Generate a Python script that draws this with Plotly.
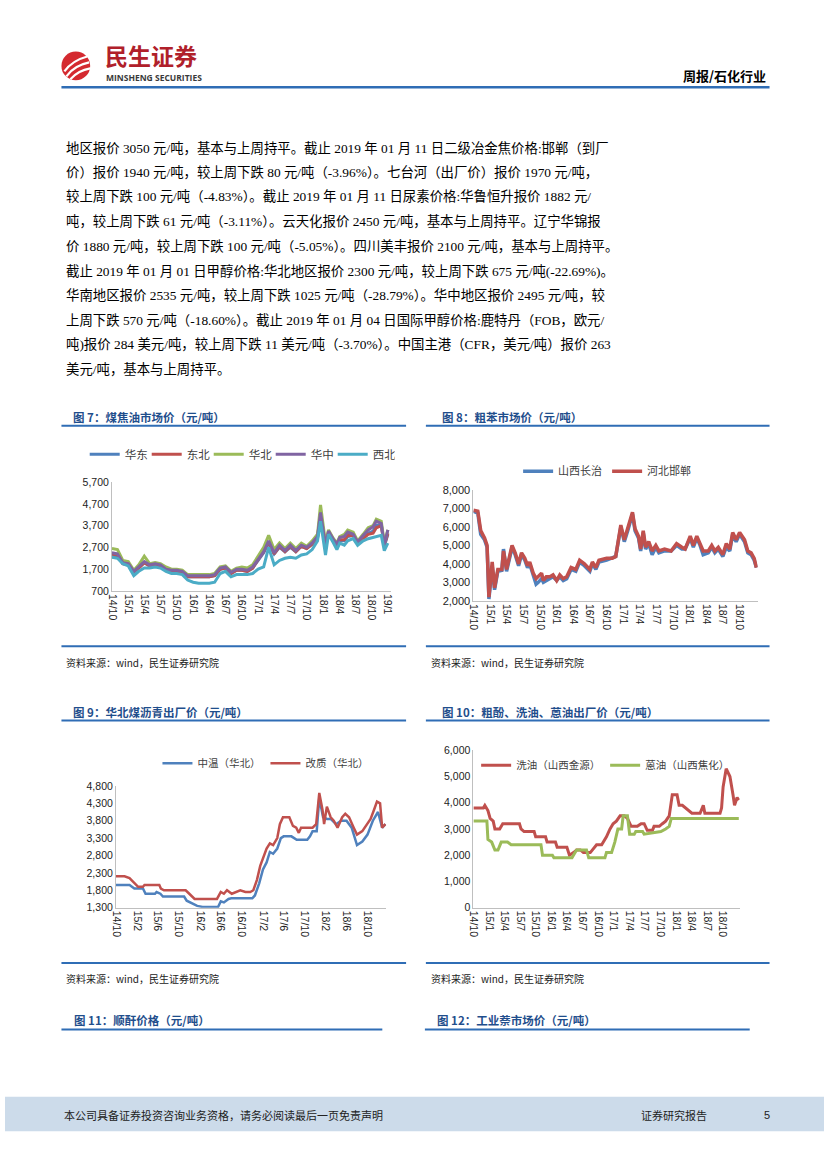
import plotly.graph_objects as go
import pandas as pd

W, H = 827, 1169
def px(x): return x / W
def py(y): return 1 - y / H

CJK = "Noto Sans CJK SC"
SERIF = "Liberation Serif, Noto Sans CJK SC"
NUM = "Liberation Sans"
TITLE_C = "#1F4E8C"
RULE_C = "#2F6DB5"
C_BLUE, C_RED, C_GREEN, C_PURPLE, C_CYAN = "#4F81BD", "#C0504D", "#9BBB59", "#8064A2", "#4BACC6"

# ---------------- Chart 7: 煤焦油市场价 ----------------
dates7 = pd.date_range("2014-10-01", "2017-09-01", freq="MS").strftime("%Y-%m-%d").tolist() + [
    "2017-10-01", "2017-11-01", "2017-12-01", "2017-12-18", "2018-01-15", "2018-02-01", "2018-03-01",
    "2018-03-20", "2018-04-05", "2018-05-01", "2018-05-20", "2018-06-20", "2018-07-15", "2018-08-15",
    "2018-09-12", "2018-10-10", "2018-10-28", "2018-11-25", "2018-12-12", "2019-01-01"]
huabei7 = [2650, 2600, 2100, 2050, 1650, 1900, 2300, 1950, 2000, 1950, 1800, 1700,
           1700, 1650, 1450, 1450, 1450, 1450, 1450, 1500, 1800, 1850, 1600, 1750,
           1800, 1750, 1900, 2300, 2700, 3250, 2600, 2900, 2650, 2900, 2650, 2900,
           2750, 3000, 3300, 4650, 2900, 3500, 3100, 2900, 3200, 3300, 3500, 3400, 3000, 3300,
           3600, 3700, 4000, 3900, 2900, 3500]
huazhong7 = [2450, 2400, 2000, 1950, 1600, 1800, 2050, 1900, 1950, 1900, 1700, 1650,
             1650, 1600, 1400, 1400, 1400, 1400, 1400, 1450, 1750, 1800, 1550, 1700,
             1700, 1650, 1800, 2150, 2500, 3000, 2450, 2800, 2550, 2800, 2550, 2800,
             2700, 2900, 3200, 4300, 2800, 3450, 3050, 2850, 3150, 3200, 3400, 3300, 2950, 3250,
             3500, 3650, 3900, 3800, 2800, 3500]
huadong7 = [2350, 2300, 1950, 1900, 1550, 1750, 2000, 1850, 1900, 1850, 1700, 1600,
            1600, 1550, 1350, 1350, 1350, 1350, 1350, 1400, 1700, 1750, 1500, 1650,
            1650, 1600, 1750, 2100, 2450, 2900, 2400, 2700, 2500, 2700, 2500, 2750,
            2650, 2850, 3100, 4200, 2750, 3350, 3000, 2750, 3000, 3000, 3200, 3250, 2900, 3150,
            3350, 3450, 3700, 3750, 2750, 3300]
dongbei7 = [2400, 2350, 1950, 1900, 1600, 1750, 2000, 1850, 1900, 1850, 1700, 1600,
            1600, 1550, 1350, 1350, 1350, 1350, 1350, 1400, 1700, 1750, 1500, 1650,
            1650, 1600, 1750, 2150, 2500, 2950, 2400, 2750, 2500, 2750, 2500, 2750,
            2650, 2850, 3150, 4250, 2750, 3400, 3000, 2800, 3050, 3050, 3250, 3250, 2900, 3100,
            3300, 3350, 3600, 3700, 2800, 3350]
xibei7 = [2250, 2200, 1950, 1850, 1400, 1600, 1750, 1750, 1800, 1750, 1600, 1500,
          1500, 1450, 1200, 1100, 1050, 1050, 1050, 1100, 1500, 1600, 1350, 1450,
          1450, 1450, 1500, 1700, 1800, 2700, 1900, 2100, 2200, 2250, 2200, 2350,
          2400, 2600, 3000, 3900, 2350, 3300, 2900, 2600, 2900, 2800, 3000, 3100, 2800, 3000,
          3100, 3150, 3200, 3250, 2550, 2900]

# ---------------- Chart 8: 粗苯市场价 ----------------
dates8 = ["2014-10-01", "2014-10-25", "2014-11-10", "2014-12-01", "2014-12-15", "2014-12-25", "2015-01-12", "2015-01-25", "2015-02-12", "2015-03-06",
          "2015-03-15", "2015-04-01", "2015-05-01", "2015-05-18", "2015-06-06", "2015-06-22", "2015-07-10", "2015-07-25", "2015-08-06", "2015-08-25",
          "2015-09-10", "2015-09-22", "2015-10-10", "2015-10-20", "2015-11-05", "2015-11-25", "2015-12-12", "2016-01-01", "2016-01-18", "2016-02-06",
          "2016-02-25", "2016-03-20", "2016-04-15", "2016-05-06", "2016-06-01", "2016-07-01", "2016-07-15", "2016-08-03", "2016-08-20", "2016-10-01",
          "2016-11-01", "2016-11-20", "2016-12-18", "2017-01-06", "2017-01-25", "2017-02-20", "2017-03-06", "2017-03-25", "2017-04-06", "2017-04-20",
          "2017-05-03", "2017-05-20", "2017-06-08", "2017-06-28", "2017-07-15", "2017-08-15", "2017-09-20", "2017-10-20", "2017-11-18", "2017-12-06",
          "2018-01-03", "2018-01-20", "2018-02-08", "2018-02-26", "2018-03-15", "2018-04-12", "2018-05-01", "2018-05-18", "2018-06-06", "2018-07-01",
          "2018-07-20", "2018-08-08", "2018-08-24", "2018-09-12", "2018-10-01", "2018-10-28", "2018-11-15", "2018-12-03", "2018-12-20", "2019-01-01"]
changzhi8 = [6850, 6750, 5600, 5300, 4900, 2100, 3900, 2600, 3600, 3650,
             4800, 3600, 4900, 4500, 3900, 4500, 4200, 3800, 4000, 3400,
             2900, 3000, 3200, 3000, 3100, 3200, 3300, 3100, 3300, 3100,
             3200, 3700, 3600, 4100, 3900, 3600, 4000, 3700, 4100, 4200,
             4300, 4400, 6000, 5200, 5800, 6700, 5800, 5400, 4700, 5700,
             4800, 5100, 4500, 4900, 4600, 4700, 4700, 5000, 4800, 4800,
             5400, 4900, 5400, 5000, 4500, 4600, 4900, 4600, 4800, 4400,
             4900, 4700, 5600, 5200, 5600, 5200, 4600, 4500, 4200, 3800]
handan8 = [6900, 6850, 5800, 5400, 5000, 2200, 4100, 2700, 3700, 3700,
           4700, 3700, 5000, 4600, 4000, 4600, 4300, 3900, 4100, 3500,
           3200, 3300, 3500, 3100, 3300, 3300, 3400, 3100, 3400, 3200,
           3300, 3800, 3700, 4200, 4000, 3700, 4100, 3800, 4200, 4300,
           4300, 4400, 6100, 5300, 5900, 6800, 5900, 5500, 4800, 5800,
           4900, 5200, 4700, 5000, 4700, 4800, 4700, 5100, 4900, 4800,
           5500, 5000, 5500, 5100, 4700, 4700, 5000, 4700, 4900, 4500,
           5100, 4800, 5700, 5300, 5700, 5300, 4700, 4600, 4300, 3800]

# ---------------- Chart 9: 华北煤沥青出厂价 ----------------
dates9_zw = ["2014-10-01", "2014-12-19", "2015-01-16", "2015-03-07", "2015-03-22", "2015-05-16", "2015-05-25", "2015-06-16", "2015-07-01", "2015-11-01",
             "2015-11-16", "2015-12-19", "2016-01-16", "2016-02-16", "2016-05-16", "2016-06-01", "2016-06-19", "2016-07-16", "2016-08-01", "2016-12-01",
             "2016-12-16", "2017-01-10", "2017-02-01", "2017-02-22", "2017-03-13", "2017-04-01", "2017-04-25", "2017-05-16", "2017-06-01", "2017-07-16",
             "2017-08-16", "2017-10-16", "2017-11-01", "2017-11-16", "2017-12-10", "2017-12-25", "2018-01-16", "2018-02-07", "2018-03-01", "2018-04-01",
             "2018-05-01", "2018-06-01", "2018-07-01", "2018-08-01", "2018-09-01", "2018-10-01", "2018-11-01", "2018-12-01", "2018-12-25", "2019-01-13"]
zhongwen9 = [1950, 1950, 1850, 1850, 1700, 1700, 1750, 1700, 1620, 1620,
             1500, 1420, 1350, 1320, 1320, 1480, 1450, 1550, 1570, 1570,
             1650, 2000, 2400, 2600, 2900, 2850, 3000, 3300, 3350, 3350,
             3250, 3250, 3350, 3500, 3500, 4450, 3900, 3850, 3850, 3700,
             3800, 3800, 3600, 3100, 3200, 3400, 3800, 4050, 3600, 3700]
dates9_gz = ["2014-10-01", "2014-11-20", "2014-12-19", "2015-01-10", "2015-01-28", "2015-02-07", "2015-03-07", "2015-03-16", "2015-06-10", "2015-06-19",
             "2015-07-07", "2015-11-10", "2015-12-01", "2015-12-19", "2016-01-01", "2016-05-10", "2016-06-01", "2016-06-19", "2016-07-07", "2016-08-04",
             "2016-08-25", "2016-09-22", "2016-10-22", "2016-11-19", "2016-12-07", "2016-12-28", "2017-01-16", "2017-02-04", "2017-02-22", "2017-03-13",
             "2017-04-01", "2017-04-25", "2017-05-10", "2017-05-28", "2017-07-04", "2017-07-25", "2017-08-13", "2017-08-28", "2017-09-10", "2017-11-16",
             "2017-12-07", "2017-12-25", "2018-01-13", "2018-01-22", "2018-02-07", "2018-03-01", "2018-03-19", "2018-04-10", "2018-05-07", "2018-05-25",
             "2018-06-16", "2018-07-13", "2018-08-01", "2018-09-01", "2018-09-28", "2018-10-19", "2018-11-07", "2018-11-25", "2018-12-13", "2018-12-25",
             "2019-01-13"]
gaizhi9 = [2200, 2200, 2150, 2050, 1950, 1900, 1900, 1950, 1950, 1850,
           1800, 1800, 1700, 1600, 1550, 1550, 1750, 1700, 1800, 1700,
           1750, 1800, 1750, 1750, 1800, 2100, 2500, 2750, 3000, 3150,
           3100, 3300, 3700, 3900, 3900, 3650, 3600, 3450, 3600, 3600,
           3700, 4600, 4100, 3700, 4200, 3900, 3800, 3600, 3900, 4000,
           3900, 3600, 3400, 3500, 3700, 3850, 4100, 4350, 4300, 3600,
           3700]

# ---------------- Chart 10: 粗酚、洗油、蒽油出厂价 ----------------
dates10_xy = ["2014-10-01", "2014-11-28", "2014-12-07", "2014-12-25", "2015-01-07", "2015-01-25", "2015-02-04", "2015-03-04", "2015-03-22", "2015-06-28",
              "2015-07-07", "2015-07-25", "2015-09-22", "2015-10-01", "2015-11-28", "2015-12-07", "2016-01-25", "2016-02-04", "2016-04-01", "2016-04-16",
              "2016-05-10", "2016-05-28", "2016-06-19", "2016-07-07", "2016-08-16", "2016-09-22", "2016-10-22", "2016-11-19", "2016-12-10", "2016-12-28",
              "2017-01-16", "2017-02-07", "2017-03-04", "2017-03-22", "2017-04-13", "2017-05-19", "2017-06-10", "2017-06-28", "2017-07-16", "2017-08-16",
              "2017-08-25", "2017-09-25", "2017-10-13", "2017-11-01", "2017-11-22", "2017-12-10", "2018-01-07", "2018-01-19", "2018-02-07", "2018-02-25",
              "2018-03-16", "2018-04-04", "2018-05-22", "2018-06-10", "2018-06-19", "2018-09-16", "2018-09-25", "2018-10-04", "2018-10-22", "2018-11-13",
              "2018-12-01", "2018-12-10", "2018-12-25", "2019-01-04"]
xiyou10 = [3800, 3800, 3900, 3700, 3400, 3300, 3000, 3000, 3200, 3200,
           3000, 2900, 2900, 2700, 2700, 2500, 2500, 2300, 2300, 2000,
           2100, 2200, 2200, 2100, 2100, 2400, 2400, 2700, 3000, 3200,
           3300, 3500, 3500, 3400, 3100, 3100, 3200, 3200, 2950, 2950,
           3100, 3100, 3200, 3300, 3500, 4300, 4300, 3900, 3900, 3800,
           3700, 3600, 3600, 3900, 3600, 3600, 3800, 4600, 5300, 5000,
           4300, 3900, 4200, 4100]
dates10_ey = ["2014-10-01", "2014-12-19", "2014-12-25", "2015-01-16", "2015-02-04", "2015-02-22", "2015-03-13", "2015-04-19", "2015-05-10", "2015-11-01",
              "2015-11-10", "2016-01-07", "2016-01-16", "2016-05-01", "2016-05-19", "2016-05-28", "2016-07-25", "2016-08-07", "2016-11-10", "2016-11-19",
              "2016-12-19", "2017-01-07", "2017-01-25", "2017-02-16", "2017-02-25", "2017-03-22", "2017-04-04", "2017-05-01", "2017-05-10", "2017-06-19",
              "2017-06-28", "2017-09-04", "2017-10-04", "2017-11-01", "2017-11-22", "2017-12-04", "2019-01-04"]
enyou10 = [3300, 3300, 2600, 2500, 2200, 2200, 2500, 2500, 2400, 2400,
           2000, 2000, 1900, 1900, 2100, 2200, 2200, 1900, 1900, 2100,
           2100, 2500, 3000, 3000, 3500, 3500, 2800, 2800, 2900, 2900,
           2800, 2850, 2900, 3000, 3100, 3400, 3400]

# ---------------- text content ----------------
paragraph = [
    "地区报价 3050 元/吨，基本与上周持平。截止 2019 年 01 月 11 日二级冶金焦价格:邯郸（到厂",
    "价）报价 1940 元/吨，较上周下跌 80 元/吨（-3.96%）。七台河（出厂价）报价 1970 元/吨，",
    "较上周下跌 100 元/吨（-4.83%）。截止 2019 年 01 月 11 日尿素价格:华鲁恒升报价 1882 元/",
    "吨，较上周下跌 61 元/吨（-3.11%）。云天化报价 2450 元/吨，基本与上周持平。辽宁华锦报",
    "价 1880 元/吨，较上周下跌 100 元/吨（-5.05%）。四川美丰报价 2100 元/吨，基本与上周持平。",
    "截止 2019 年 01 月 01 日甲醇价格:华北地区报价 2300 元/吨，较上周下跌 675 元/吨(-22.69%)。",
    "华南地区报价 2535 元/吨，较上周下跌 1025 元/吨（-28.79%）。华中地区报价 2495 元/吨，较",
    "上周下跌 570 元/吨（-18.60%）。截止 2019 年 01 月 04 日国际甲醇价格:鹿特丹（FOB，欧元/",
    "吨)报价 284 美元/吨，较上周下跌 11 美元/吨（-3.70%）。中国主港（CFR，美元/吨）报价 263",
    "美元/吨，基本与上周持平。",
]
titles = ["图 7：煤焦油市场价（元/吨）", "图 8：粗苯市场价（元/吨）",
          "图 9：华北煤沥青出厂价（元/吨）", "图 10：粗酚、洗油、蒽油出厂价（元/吨）",
          "图 11：顺酐价格（元/吨）", "图 12：工业萘市场价（元/吨）"]
source = "资料来源：wind，民生证券研究院"

fig = go.Figure()

def add(x, y, name, color, width, xa, ya, leg):
    n = min(len(x), len(y))
    fig.add_trace(go.Scatter(x=x[:n], y=y[:n], name=name, mode="lines",
                             line=dict(color=color, width=width),
                             xaxis=xa, yaxis=ya, legend=leg, hoverinfo="skip"))

add(dates7, huadong7, "华东", C_BLUE, 3, "x", "y", "legend")
add(dates7, dongbei7, "东北", C_RED, 3, "x", "y", "legend")
add(dates7, huabei7, "华北", C_GREEN, 3, "x", "y", "legend")
add(dates7, huazhong7, "华中", C_PURPLE, 3, "x", "y", "legend")
add(dates7, xibei7, "西北", C_CYAN, 3, "x", "y", "legend")

add(dates8, changzhi8, "山西长治", C_BLUE, 3.5, "x2", "y2", "legend2")
add(dates8, handan8, "河北邯郸", C_RED, 3.5, "x2", "y2", "legend2")

add(dates9_zw, zhongwen9, "中温（华北）", C_BLUE, 2.5, "x3", "y3", "legend3")
add(dates9_gz, gaizhi9, "改质（华北）", C_RED, 2.5, "x3", "y3", "legend3")

add(dates10_xy, xiyou10, "洗油（山西金源）", C_RED, 3, "x4", "y4", "legend4")
add(dates10_ey, enyou10, "蒽油（山西焦化）", C_GREEN, 3, "x4", "y4", "legend4")

def tick_list(start, end, step):
    d = pd.date_range(start, end, freq=f"{step}MS")
    return [x.strftime("%Y-%m-%d") for x in d], [f"{x.year % 100}/{x.month}" for x in d]

def xax(left, right, rng, ticks, anchor, fs):
    tv, tt = ticks
    return dict(domain=[px(left), px(right)], range=rng, type="date", anchor=anchor,
                tickmode="array", tickvals=tv, ticktext=tt, tickangle=90,
                showgrid=False, zeroline=False, showline=True, linecolor="#BFBFBF", linewidth=1,
                ticks="", tickfont=dict(family=NUM, size=fs, color="#222"), fixedrange=True)

def yax(top, bottom, rng, dtick, anchor, fs):
    return dict(domain=[py(bottom), py(top)], range=rng, tickmode="linear", tick0=rng[0], dtick=dtick,
                anchor=anchor, tickformat=",", showgrid=False, zeroline=False, showline=True,
                linecolor="#BFBFBF", linewidth=1, ticks="",
                tickfont=dict(family=NUM, size=fs, color="#222"), fixedrange=True)

def legend(xc, yc, fs, ew=None):
    d = dict(orientation="h", x=px(xc), y=py(yc), xanchor="center", yanchor="middle",
             font=dict(family=CJK, size=fs, color="#404040"), bgcolor="rgba(0,0,0,0)",
             itemwidth=30, tracegroupgap=0)
    if ew:
        d.update(entrywidth=ew, entrywidthmode="pixels")
    return d

shapes = []
annotations = []

def hline(x0, x1, y, color, w):
    shapes.append(dict(type="line", xref="paper", yref="paper", x0=px(x0), x1=px(x1),
                       y0=py(y), y1=py(y), line=dict(color=color, width=w)))

def text(x, y, s, size, color="#000", family=CJK, anchor="left", bold=False):
    if bold:
        s = "<b>" + s + "</b>"
    annotations.append(dict(xref="paper", yref="paper", x=px(x), y=py(y), text=s, showarrow=False,
                            xanchor=anchor, yanchor="middle",
                            font=dict(size=size, color=color, family=family)))

# header
shapes.append(dict(type="circle", xref="paper", yref="paper", x0=px(57), x1=px(86), y0=py(75), y1=py(46),
                   fillcolor="#D42A30", line=dict(width=0)))
def path(pts):
    return "M " + " ".join(f"{'Q ' if i == 1 else ''}{px(a):.5f},{py(b):.5f}" for i, (a, b) in enumerate(pts))
for pts in [[(60, 66), (68, 55), (83, 51)], [(62, 71), (70, 60), (85, 57)], [(66, 74), (74, 65), (86, 63)]]:
    shapes.append(dict(type="path", xref="paper", yref="paper", path=path(pts),
                       line=dict(color="white", width=2.2)))
text(99, 50, "民生证券", 23, "#B0202A", CJK, bold=True)
text(100, 72, "MINSHENG SECURITIES", 8.5, "#3A3A3A", "Open Sans", bold=True)
text(770, 70, "周报/石化行业", 13, "#000", CJK, anchor="right", bold=True)
hline(57, 772, 82, RULE_C, 2.5)

# paragraph
for i, line in enumerate(paragraph):
    text(60, 143 + i * 24.9, line, 13.4, "#000", SERIF)

# chart titles & rules
text(67, 415, titles[0], 11.5, TITLE_C, CJK, bold=True)
text(439, 415, titles[1], 11.5, TITLE_C, CJK, bold=True)
hline(57, 405, 424, RULE_C, 2)
hline(425, 772, 424, RULE_C, 2)
hline(57, 405, 647, RULE_C, 2)
hline(425, 772, 647, RULE_C, 2)
text(60, 663, source, 10, "#222", CJK)
text(428, 663, source, 10, "#222", CJK)

text(67, 713, titles[2], 11.5, TITLE_C, CJK, bold=True)
text(439, 713, titles[3], 11.5, TITLE_C, CJK, bold=True)
hline(57, 405, 722, RULE_C, 2)
hline(425, 772, 722, RULE_C, 2)
hline(57, 405, 967, RULE_C, 2)
hline(425, 772, 967, RULE_C, 2)
text(60, 983, source, 10, "#222", CJK)
text(428, 983, source, 10, "#222", CJK)

text(68, 1025, titles[4], 11.5, TITLE_C, CJK, bold=True)
text(434, 1025, titles[5], 11.5, TITLE_C, CJK, bold=True)
hline(57, 381, 1034, RULE_C, 2)
hline(424, 752, 1034, RULE_C, 2)

# footer
shapes.append(dict(type="rect", xref="paper", yref="paper", x0=0, x1=1, y0=py(1137), y1=py(1102),
                   fillcolor="#CCDBEA", line=dict(width=0), layer="below"))
text(58, 1121, "本公司具备证券投资咨询业务资格，请务必阅读最后一页免责声明", 11, "#222", CJK)
text(640, 1121, "证券研究报告", 11, "#222", CJK)
text(764, 1121, "5", 11, "#222", NUM)

fig.update_layout(
    width=W, height=H, margin=dict(l=0, r=0, t=0, b=0),
    paper_bgcolor="white", plot_bgcolor="rgba(0,0,0,0)",
    showlegend=True,
    xaxis=xax(108, 390, ["2014-10-01", "2019-01-20"], tick_list("2014-10-01", "2019-01-01", 3), "y", 10.5),
    yaxis=yax(481, 591, [700, 5700], 1000, "x", 10.5),
    xaxis2=xax(473, 760, ["2014-10-01", "2019-01-08"], tick_list("2014-10-01", "2018-10-01", 3), "y2", 10.5),
    yaxis2=yax(489, 601, [2000, 8000], 1000, "x2", 11),
    xaxis3=xax(112, 385, ["2014-10-01", "2019-01-18"], tick_list("2014-10-01", "2018-10-01", 4), "y3", 10.5),
    yaxis3=yax(788, 911, [1300, 4800], 500, "x3", 10.5),
    xaxis4=xax(473, 742, ["2014-10-01", "2019-01-10"], tick_list("2014-10-01", "2018-10-01", 3), "y4", 10.5),
    yaxis4=yax(752, 911, [0, 6000], 1000, "x4", 10.5),
    legend=legend(237, 453, 11.5, 17),
    legend2=legend(608, 470, 11),
    legend3=legend(263, 765, 10.5),
    legend4=legend(606, 767, 10.5),
    shapes=shapes, annotations=annotations,
)

fig.write_html("out.html", config={"displayModeBar": False, "staticPlot": True},
               post_script="document.body.style.margin='0px';document.body.style.overflow='hidden';")
